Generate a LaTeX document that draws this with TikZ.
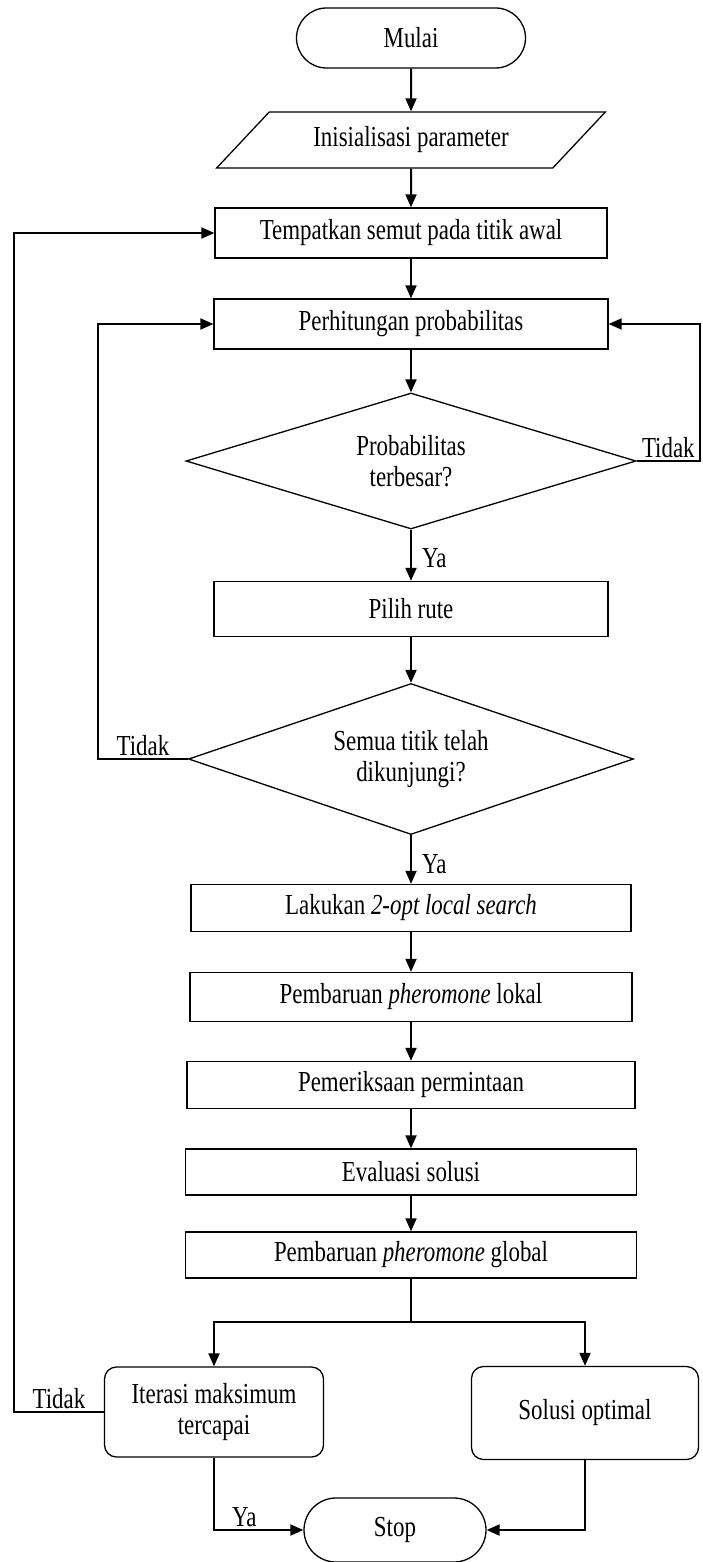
\documentclass[tikz,border=0pt]{standalone}
\usepackage{fontspec}
\setmainfont{Liberation Serif}[FakeStretch=0.79]
\usetikzlibrary{shapes.geometric, shapes.misc, arrows.meta, positioning}

\begin{document}
\begin{tikzpicture}[
    x=1pt, y=-1pt,
    font=\fontsize{29}{31}\selectfont,
    box/.style={rectangle, draw, line width=1.3pt, minimum width=394pt, minimum height=50pt, inner sep=0pt, align=center},
    term/.style={rounded rectangle, draw, line width=1.3pt, minimum width=229pt, minimum height=60pt, inner sep=0pt},
    io/.style={trapezium, trapezium left angle=36, trapezium right angle=144, trapezium stretches=true, draw, line width=1.3pt, minimum width=390pt, minimum height=56pt, inner sep=0pt},
    decision/.style={diamond, aspect=3, draw, line width=1.3pt, inner sep=0pt, align=center},
    endbox/.style={rectangle, draw, rounded corners=12pt, line width=1.3pt, inner sep=0pt, align=center},
    arrow/.style={-{Triangle[length=13pt,width=11pt]}, line width=2pt},
    line/.style={line width=2pt},
    lbl/.style={inner sep=2pt}
]
    \useasboundingbox (0,0) rectangle (702,1562);

    % Start and input
    \node[term] (start) at (411,38) {Mulai};
    \node[io] (init) at (411,140) {Inisialisasi parameter};

    % Ant placement and probability
    \node[box, minimum width=392pt] (place) at (411,233) {Tempatkan semut pada titik awal};
    \node[box] (prob) at (411,324) {Perhitungan probabilitas};
    \node[decision, minimum width=450pt, minimum height=136pt] (maxp) at (411,461) {Probabilitas\\terbesar?};
    \node[box, minimum height=55pt] (route) at (411,609) {Pilih rute};
    \node[decision, minimum width=445pt, minimum height=151pt] (visited) at (411,759) {Semua titik telah\\dikunjungi?};

    % Improvement and update
    \node[box, minimum width=440pt, minimum height=47pt] (opt) at (411,908) {Lakukan \textit{2-opt local search}};
    \node[box, minimum width=442pt, minimum height=49pt] (local) at (411,997) {Pembaruan \textit{pheromone} lokal};
    \node[box, minimum width=448pt, minimum height=47pt] (check) at (411,1085) {Pemeriksaan permintaan};
    \node[box, minimum width=451pt, minimum height=46pt] (eval) at (411,1172) {Evaluasi solusi};
    \node[box, minimum width=451pt, minimum height=46pt] (global) at (411,1255) {Pembaruan \textit{pheromone} global};

    % End states
    \node[endbox, minimum width=219pt, minimum height=90pt] (iter) at (214,1412) {Iterasi maksimum\\tercapai};
    \node[endbox, minimum width=227pt, minimum height=93pt] (sol) at (585,1413) {Solusi optimal};
    \node[term, minimum width=182pt, minimum height=64pt] (stop) at (395,1530) {Stop};

    % Bend points
    \coordinate (split) at (411,1322);
    \coordinate (loopL) at (14,1412);
    \coordinate (loopM) at (98,759);
    \coordinate (loopR) at (700,461);

    \draw[arrow] (start) -- (init);
    \draw[arrow] (init) -- (place);
    \draw[arrow] (place) -- (prob);
    \draw[arrow] (prob) -- (maxp);
    \draw[arrow] (maxp) -- node[lbl, pos=0.55, right=8pt] {Ya} (route);
    \draw[arrow] (route) -- (visited);
    \draw[arrow] (visited) -- node[lbl, pos=0.6, right=8pt] {Ya} (opt);
    \draw[arrow] (opt) -- (local);
    \draw[arrow] (local) -- (check);
    \draw[arrow] (check) -- (eval);
    \draw[arrow] (eval) -- (global);
    \draw[line] (global) -- (split);
    \draw[arrow] (split) -| (iter.north);
    \draw[arrow] (split) -| (sol.north);
    \draw[arrow] (iter) |- node[lbl, pos=0.67, above] {Ya} (stop);
    \draw[arrow] (sol) |- (stop);

    % Loops back
    \draw[arrow] (maxp) -- node[lbl, above] {Tidak} (loopR) |- (prob);
    \draw[arrow] (visited) -- node[lbl, above] {Tidak} (loopM) |- (prob);
    \draw[arrow] (iter) -- node[lbl, above] {Tidak} (loopL) |- (place);
\end{tikzpicture}
\end{document}
